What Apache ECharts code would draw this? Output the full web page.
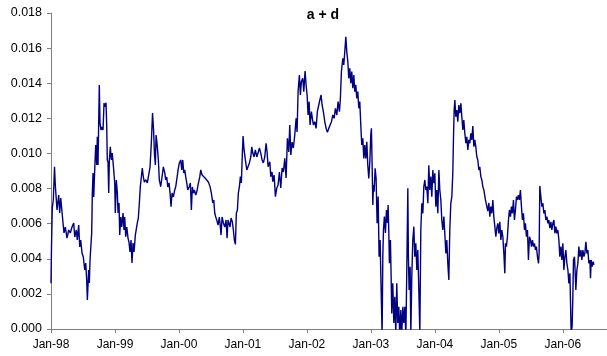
<!DOCTYPE html>
<html>
<head>
<meta charset="utf-8">
<title>a + d</title>
<script src="https://cdn.jsdelivr.net/npm/echarts@6/dist/echarts.min.js"></script>
<style>
  html, body { margin: 0; padding: 0; background: #ffffff; }
  #chart { width: 607px; height: 356px; }
</style>
</head>
<body>
<div id="chart"></div>
<script>
// Observation times in decimal years (1998.0 = 1 Jan 1998)
const obsTime = [
  // 1998
  1998.000,1998.008,1998.020,1998.036,1998.055,1998.067,1998.094,1998.120,1998.136,1998.152,1998.172,1998.188,1998.203,1998.224,1998.250,1998.277,
  1998.302,1998.328,1998.355,1998.371,1998.396,1998.411,1998.433,1998.449,1998.464,1998.485,1998.505,1998.527,1998.543,1998.558,1998.568,1998.583,
  1998.589,1998.599,1998.610,1998.625,1998.636,1998.646,1998.657,1998.668,1998.683,1998.699,1998.715,1998.724,1998.735,1998.746,1998.755,1998.766,
  1998.782,1998.797,1998.813,1998.829,1998.844,1998.860,1998.871,1998.880,1998.891,1998.902,1998.912,1998.927,1998.943,1998.958,1998.980,1998.996,
  // 1999
  1999.005,1999.021,1999.037,1999.048,1999.063,1999.074,1999.090,1999.105,1999.126,1999.141,1999.152,1999.168,1999.184,1999.204,1999.220,1999.235,
  1999.251,1999.266,1999.282,1999.298,1999.318,1999.334,1999.349,1999.365,1999.381,1999.396,1999.412,1999.427,1999.443,1999.459,1999.481,1999.506,
  1999.532,1999.548,1999.568,1999.587,1999.603,1999.618,1999.631,1999.642,1999.657,1999.678,1999.693,1999.715,1999.735,1999.756,1999.778,1999.793,
  1999.809,1999.825,1999.845,1999.861,1999.876,1999.892,1999.912,1999.934,1999.950,1999.965,1999.986,
  // 2000
  2000.006,2000.028,2000.044,2000.059,2000.075,2000.090,2000.106,2000.122,2000.137,2000.158,2000.178,2000.194,2000.209,2000.225,2000.240,2000.262,
  2000.278,2000.303,2000.325,2000.341,2000.361,2000.381,2000.408,2000.434,2000.459,2000.486,2000.506,2000.528,2000.544,2000.559,2000.575,2000.591,
  2000.611,2000.631,2000.647,2000.658,2000.674,2000.694,2000.716,2000.736,2000.752,2000.767,2000.783,2000.799,2000.814,2000.835,2000.850,2000.866,
  2000.882,2000.897,2000.913,2000.928,2000.944,2000.960,2000.975,2000.991,
  // 2001
  2001.002,2001.018,2001.038,2001.060,2001.080,2001.101,2001.123,2001.138,2001.154,2001.174,2001.194,2001.216,2001.236,2001.257,2001.279,2001.299,
  2001.319,2001.341,2001.361,2001.377,2001.393,2001.420,2001.435,2001.455,2001.466,2001.487,2001.507,2001.529,2001.549,2001.570,2001.591,2001.612,
  2001.632,2001.654,2001.674,2001.695,2001.716,2001.732,2001.748,2001.768,2001.788,2001.810,2001.831,2001.846,2001.862,2001.882,2001.898,2001.913,
  2001.935,2001.951,2001.971,2001.987,
  // 2002
  2002.003,2002.018,2002.034,2002.049,2002.070,2002.085,2002.101,2002.123,2002.143,2002.163,2002.185,2002.201,2002.221,2002.237,2002.257,2002.279,
  2002.300,2002.320,2002.342,2002.362,2002.384,2002.404,2002.425,2002.445,2002.467,2002.487,2002.508,2002.523,2002.539,2002.561,2002.576,2002.592,
  2002.608,2002.623,2002.639,2002.654,2002.670,2002.686,2002.701,2002.717,2002.733,2002.748,2002.764,2002.779,2002.795,2002.811,2002.826,2002.842,
  2002.857,2002.873,2002.889,2002.904,2002.920,2002.936,2002.951,2002.967,2002.983,2002.998,
  // 2003
  2003.008,2003.019,2003.030,2003.040,2003.050,2003.066,2003.081,2003.097,2003.113,2003.128,2003.144,2003.160,2003.175,2003.186,2003.196,2003.211,
  2003.227,2003.243,2003.258,2003.269,2003.280,2003.289,2003.305,2003.316,2003.326,2003.342,2003.358,2003.373,2003.389,2003.404,2003.420,2003.436,
  2003.452,2003.467,2003.483,2003.499,2003.514,2003.530,2003.546,2003.561,2003.577,2003.586,2003.597,2003.613,2003.624,2003.639,2003.655,2003.671,
  2003.686,2003.702,2003.718,2003.733,2003.749,2003.765,2003.780,2003.796,2003.812,2003.827,2003.843,2003.858,2003.874,2003.890,2003.905,2003.921,
  2003.937,2003.952,2003.968,2003.983,2003.999,
  // 2004
  2004.015,2004.030,2004.046,2004.062,2004.077,2004.093,2004.108,2004.124,2004.140,2004.155,2004.171,2004.186,2004.202,2004.218,2004.233,2004.249,
  2004.265,2004.280,2004.290,2004.301,2004.312,2004.327,2004.343,2004.358,2004.374,2004.390,2004.406,2004.421,2004.437,2004.452,2004.468,2004.484,
  2004.499,2004.515,2004.530,2004.546,2004.562,2004.577,2004.593,2004.609,2004.624,2004.640,2004.655,2004.671,2004.687,2004.702,2004.718,2004.734,
  2004.749,2004.765,2004.790,2004.812,2004.827,2004.843,2004.859,2004.874,2004.890,2004.906,2004.921,2004.937,2004.953,2004.968,2004.984,2004.999,
  // 2005
  2005.015,2005.031,2005.046,2005.062,2005.078,2005.093,2005.103,2005.118,2005.134,2005.150,2005.165,2005.181,2005.197,2005.212,2005.228,2005.243,
  2005.259,2005.275,2005.290,2005.306,2005.321,2005.337,2005.353,2005.368,2005.384,2005.400,2005.415,2005.431,2005.447,2005.462,2005.478,2005.494,
  2005.509,2005.525,2005.541,2005.556,2005.572,2005.587,2005.603,2005.619,2005.629,2005.640,2005.656,2005.672,2005.688,2005.703,2005.719,2005.734,
  2005.750,2005.766,2005.781,2005.797,2005.813,2005.828,2005.844,2005.860,2005.875,2005.891,2005.906,2005.922,2005.938,2005.953,2005.969,2005.985,
  // 2006
  2006.000,2006.016,2006.032,2006.047,2006.063,2006.079,2006.094,2006.110,2006.119,2006.130,2006.145,2006.156,2006.166,2006.182,2006.193,2006.203,
  2006.219,2006.235,2006.250,2006.266,2006.282,2006.297,2006.313,2006.329,2006.344,2006.360,2006.376,2006.391,2006.407,2006.423,2006.432,2006.443,
  2006.458,2006.474,2006.485
];

// a + d at each observation time
const obsValue = [
  // 1998
  0.00260,0.00469,0.00689,0.00735,0.00924,0.00820,0.00678,0.00763,0.00661,0.00746,0.00735,0.00604,0.00547,0.00581,0.00518,0.00564,
  0.00547,0.00581,0.00604,0.00524,0.00564,0.00507,0.00592,0.00467,0.00507,0.00433,0.00410,0.00336,0.00376,0.00279,0.00165,0.00156,
  0.00336,0.00262,0.00393,0.00404,0.00547,0.00775,0.00889,0.00752,0.00906,0.01048,0.00934,0.01095,0.00934,0.01190,0.01390,0.01173,
  0.01134,0.01151,0.01134,0.01287,0.01265,0.01289,0.01152,0.00963,0.00951,0.00775,0.00963,0.01038,0.00963,0.01002,0.00906,0.00832,
  // 1999
  0.00661,0.00849,0.00775,0.00661,0.00718,0.00535,0.00638,0.00581,0.00661,0.00564,0.00638,0.00526,0.00581,0.00518,0.00490,0.00439,
  0.00507,0.00376,0.00490,0.00439,0.00535,0.00524,0.00604,0.00632,0.00718,0.00811,0.00866,0.00917,0.00866,0.00837,0.00849,0.00832,
  0.00837,0.00924,0.01059,0.01230,0.01134,0.00991,0.00934,0.01105,0.01059,0.00963,0.00849,0.00811,0.00866,0.00924,0.00889,0.00849,
  0.00866,0.00809,0.00832,0.00773,0.00697,0.00775,0.00752,0.00792,0.00811,0.00849,0.00906,
  // 2000
  0.00946,0.00963,0.00906,0.00963,0.00889,0.00906,0.00866,0.00832,0.00792,0.00809,0.00832,0.00678,0.00809,0.00775,0.00792,0.00763,
  0.00780,0.00830,0.00866,0.00906,0.00877,0.00866,0.00860,0.00849,0.00837,0.00811,0.00775,0.00718,0.00735,0.00661,0.00638,0.00621,
  0.00592,0.00638,0.00581,0.00535,0.00638,0.00604,0.00581,0.00621,0.00517,0.00621,0.00632,0.00581,0.00632,0.00609,0.00564,0.00507,
  0.00482,0.00659,0.00678,0.00773,0.00809,0.00868,0.00832,0.01001,
  // 2001
  0.01099,0.01020,0.00963,0.00906,0.00896,0.00946,0.00981,0.01038,0.01002,0.00980,0.01020,0.00980,0.01002,0.01031,0.01002,0.00963,
  0.00946,0.00980,0.01058,0.01008,0.00924,0.00953,0.00868,0.00894,0.00839,0.00877,0.00754,0.00803,0.00820,0.00894,0.00803,0.00917,
  0.00894,0.00972,0.00860,0.01086,0.01008,0.01162,0.00991,0.01065,0.01031,0.01105,0.01200,0.01122,0.01352,0.01447,0.01333,0.01409,
  0.01428,0.01352,0.01470,0.01390,
  // 2002
  0.01333,0.01219,0.01295,0.01162,0.01238,0.01200,0.01162,0.01181,0.01143,0.01238,0.01276,0.01304,0.01333,0.01276,0.01238,0.01181,
  0.01143,0.01120,0.01143,0.01162,0.01181,0.01219,0.01200,0.01257,0.01219,0.01295,0.01238,0.01314,0.01466,0.01542,0.01504,0.01580,
  0.01665,0.01580,0.01523,0.01428,0.01485,0.01400,0.01466,0.01371,0.01447,0.01352,0.01390,0.01314,0.01352,0.01257,0.01295,0.01162,
  0.01048,0.01086,0.00972,0.01048,0.00972,0.01067,0.00934,0.00858,0.00953,0.01105,
  // 2003
  0.01143,0.00934,0.00706,0.00820,0.00782,0.00915,0.00858,0.00602,0.00754,0.00412,0.00507,0.00222,-0.00040,0.00412,0.00564,0.00640,
  0.00547,0.00678,0.00604,0.00706,0.00547,0.00374,0.00507,0.00298,0.00089,0.00260,0.00034,0.00184,-0.00030,0.00260,0.00034,0.00127,
  -0.00050,0.00108,-0.00020,0.00127,0.00034,0.00127,-0.00040,0.00336,0.00801,0.00412,0.00222,0.00355,-0.00030,0.00298,0.00507,0.00583,
  0.00412,0.00488,0.00336,0.00450,0.00222,-0.00020,0.00564,0.00716,0.00659,0.00811,0.00849,0.00792,0.00811,0.00716,0.00932,0.00792,
  0.00868,0.00754,0.00906,0.00830,0.00887,
  // 2004
  0.00697,0.00792,0.00659,0.00906,0.00792,0.00735,0.00621,0.00564,0.00640,0.00545,0.00431,0.00507,0.00374,0.00279,0.00564,0.00716,
  0.00754,0.00887,0.01077,0.01247,0.01304,0.01209,0.01247,0.01181,0.01276,0.01229,0.01286,0.01209,0.01134,0.01190,0.01115,0.01058,
  0.01095,0.01020,0.01077,0.01058,0.01115,0.01077,0.01156,0.01038,0.01077,0.01038,0.00981,0.00963,0.00906,0.00924,0.00868,0.00849,
  0.00811,0.00792,0.00735,0.00746,0.00672,0.00718,0.00640,0.00697,0.00659,0.00735,0.00640,0.00583,0.00526,0.00574,0.00602,0.00545,
  // 2005
  0.00611,0.00507,0.00564,0.00526,0.00431,0.00317,0.00488,0.00469,0.00526,0.00621,0.00678,0.00640,0.00697,0.00659,0.00735,0.00621,
  0.00678,0.00754,0.00735,0.00763,0.00735,0.00792,0.00697,0.00621,0.00659,0.00564,0.00602,0.00526,0.00564,0.00393,0.00526,0.00507,
  0.00469,0.00507,0.00469,0.00488,0.00450,0.00469,0.00412,0.00374,0.00431,0.00815,0.00754,0.00697,0.00716,0.00659,0.00678,0.00621,
  0.00640,0.00602,0.00621,0.00574,0.00611,0.00564,0.00602,0.00621,0.00545,0.00583,0.00545,0.00564,0.00507,0.00412,0.00469,0.00393,
  // 2006
  0.00488,0.00336,0.00412,0.00450,0.00374,0.00336,0.00260,0.00317,0.00165,-0.00030,0.00017,0.00184,0.00393,0.00412,0.00317,0.00222,
  0.00336,0.00374,0.00469,0.00412,0.00450,0.00393,0.00450,0.00412,0.00431,0.00497,0.00431,0.00450,0.00374,0.00393,0.00289,0.00393,
  0.00355,0.00383,0.00365
];

// January of each year gets a tick and a label
const tickYears = [1998, 1999, 2000, 2001, 2002, 2003, 2004, 2005, 2006];

const FONT = '"Liberation Sans", Arial, sans-serif';

const n = Math.min(obsTime.length, obsValue.length);
if (obsTime.length !== obsValue.length) {
  console.warn('length mismatch', obsTime.length, obsValue.length);
}
const points = [];
for (let i = 0; i < n; i++) points.push([obsTime[i], obsValue[i]]);

const chart = echarts.init(document.getElementById('chart'), null, { renderer: 'canvas' });

chart.setOption({
  animation: false,
  backgroundColor: '#ffffff',
  grid: { left: 51, right: 0, top: 13, bottom: 27, containLabel: false },
  graphic: [{
    type: 'text',
    x: 323, y: 15,
    style: {
      text: 'a + d',
      font: 'bold 14px ' + FONT,
      fill: '#000000',
      textAlign: 'center',
      textVerticalAlign: 'middle'
    }
  }],
  xAxis: {
    type: 'value',
    min: 1998,
    max: 2006.69,
    interval: 1,
    axisLine: { show: true, onZero: false, lineStyle: { color: '#808080', width: 1 } },
    axisTick: { show: true, customValues: tickYears, length: 4, inside: false, lineStyle: { color: '#808080', width: 1 } },
    axisLabel: {
      customValues: tickYears,
      formatter: v => 'Jan-' + String(Math.round(v)).slice(2, 4),
      color: '#000000',
      fontFamily: FONT,
      fontSize: 12,
      margin: 10
    },
    splitLine: { show: false }
  },
  yAxis: {
    type: 'value',
    min: 0,
    max: 0.018,
    interval: 0.002,
    axisLine: { show: true, lineStyle: { color: '#808080', width: 1 } },
    axisTick: { show: true, length: 4, inside: false, lineStyle: { color: '#808080', width: 1 } },
    axisLabel: {
      formatter: v => v.toFixed(3),
      color: '#000000',
      fontFamily: FONT,
      fontSize: 12.5,
      margin: 9
    },
    splitLine: { show: false }
  },
  series: [{
    name: 'a + d',
    type: 'line',
    data: points,
    symbol: 'none',
    showSymbol: false,
    clip: true,
    lineStyle: { color: '#000080', width: 1.4 }
  }]
});
</script>
</body>
</html>
